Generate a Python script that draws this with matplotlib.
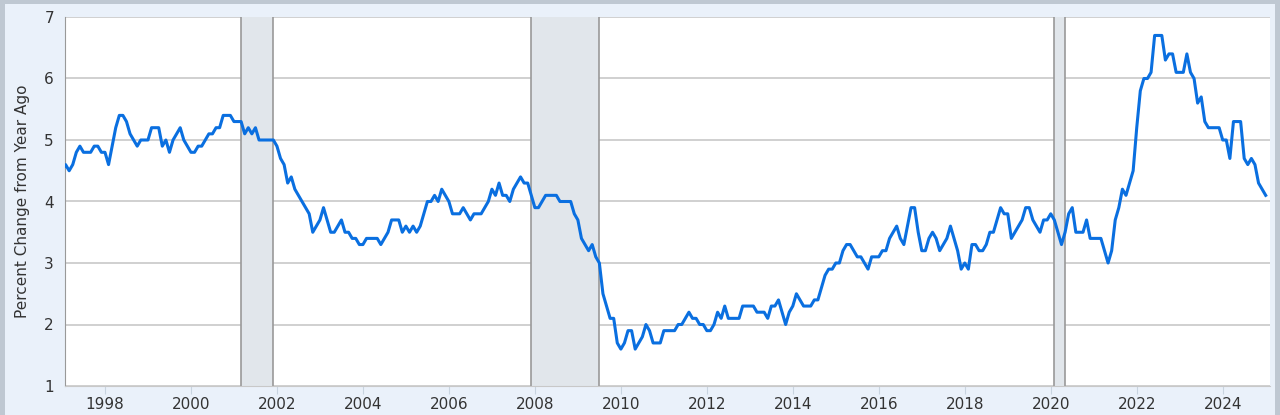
import matplotlib.pyplot as plt
import numpy as np
from matplotlib.patches import Rectangle

# monthly values, Jan 1997 .. Jan 2025
y1997 = [4.5, 4.6, 4.5, 4.6, 4.8, 4.9, 4.8, 4.8, 4.8, 4.9, 4.9, 4.8]
y1998 = [4.8, 4.6, 4.9, 5.2, 5.4, 5.4, 5.3, 5.1, 5.0, 4.9, 5.0, 5.0]
y1999 = [5.0, 5.2, 5.2, 5.2, 4.9, 5.0, 4.8, 5.0, 5.1, 5.2, 5.0, 4.9]
y2000 = [4.8, 4.8, 4.9, 4.9, 5.0, 5.1, 5.1, 5.2, 5.2, 5.4, 5.4, 5.4]
y2001 = [5.3, 5.3, 5.3, 5.1, 5.2, 5.1, 5.2, 5.0, 5.0, 5.0, 5.0, 5.0]
y2002 = [4.9, 4.7, 4.6, 4.3, 4.4, 4.2, 4.1, 4.0, 3.9, 3.8, 3.5, 3.6]
y2003 = [3.7, 3.9, 3.7, 3.5, 3.5, 3.6, 3.7, 3.5, 3.5, 3.4, 3.4, 3.3]
y2004 = [3.3, 3.4, 3.4, 3.4, 3.4, 3.3, 3.4, 3.5, 3.7, 3.7, 3.7, 3.5]
y2005 = [3.6, 3.5, 3.6, 3.5, 3.6, 3.8, 4.0, 4.0, 4.1, 4.0, 4.2, 4.1]
y2006 = [4.0, 3.8, 3.8, 3.8, 3.9, 3.8, 3.7, 3.8, 3.8, 3.8, 3.9, 4.0]
y2007 = [4.2, 4.1, 4.3, 4.1, 4.1, 4.0, 4.2, 4.3, 4.4, 4.3, 4.3, 4.1]
y2008 = [3.9, 3.9, 4.0, 4.1, 4.1, 4.1, 4.1, 4.0, 4.0, 4.0, 4.0, 3.8]
y2009 = [3.7, 3.4, 3.3, 3.2, 3.3, 3.1, 3.0, 2.5, 2.3, 2.1, 2.1, 1.7]
y2010 = [1.6, 1.7, 1.9, 1.9, 1.6, 1.7, 1.8, 2.0, 1.9, 1.7, 1.7, 1.7]
y2011 = [1.9, 1.9, 1.9, 1.9, 2.0, 2.0, 2.1, 2.2, 2.1, 2.1, 2.0, 2.0]
y2012 = [1.9, 1.9, 2.0, 2.2, 2.1, 2.3, 2.1, 2.1, 2.1, 2.1, 2.3, 2.3]
y2013 = [2.3, 2.3, 2.2, 2.2, 2.2, 2.1, 2.3, 2.3, 2.4, 2.2, 2.0, 2.2]
y2014 = [2.3, 2.5, 2.4, 2.3, 2.3, 2.3, 2.4, 2.4, 2.6, 2.8, 2.9, 2.9]
y2015 = [3.0, 3.0, 3.2, 3.3, 3.3, 3.2, 3.1, 3.1, 3.0, 2.9, 3.1, 3.1]
y2016 = [3.1, 3.2, 3.2, 3.4, 3.5, 3.6, 3.4, 3.3, 3.6, 3.9, 3.9, 3.5]
y2017 = [3.2, 3.2, 3.4, 3.5, 3.4, 3.2, 3.3, 3.4, 3.6, 3.4, 3.2, 2.9]
y2018 = [3.0, 2.9, 3.3, 3.3, 3.2, 3.2, 3.3, 3.5, 3.5, 3.7, 3.9, 3.8]
y2019 = [3.8, 3.4, 3.5, 3.6, 3.7, 3.9, 3.9, 3.7, 3.6, 3.5, 3.7, 3.7]
y2020 = [3.8, 3.7, 3.5, 3.3, 3.5, 3.8, 3.9, 3.5, 3.5, 3.5, 3.7, 3.4]
y2021 = [3.4, 3.4, 3.4, 3.2, 3.0, 3.2, 3.7, 3.9, 4.2, 4.1, 4.3, 4.5]
y2022 = [5.2, 5.8, 6.0, 6.0, 6.1, 6.7, 6.7, 6.7, 6.3, 6.4, 6.4, 6.1]
y2023 = [6.1, 6.1, 6.4, 6.1, 6.0, 5.6, 5.7, 5.3, 5.2, 5.2, 5.2, 5.2]
y2024 = [5.0, 5.0, 4.7, 5.3, 5.3, 5.3, 4.7, 4.6, 4.7, 4.6, 4.3, 4.2]
y2025 = [4.1]

values = (y1997 + y1998 + y1999 + y2000 + y2001 + y2002 + y2003 + y2004 + y2005
          + y2006 + y2007 + y2008 + y2009 + y2010 + y2011 + y2012 + y2013 + y2014
          + y2015 + y2016 + y2017 + y2018 + y2019 + y2020 + y2021 + y2022 + y2023
          + y2024 + y2025)
dates = 1997 + np.arange(len(values)) / 12

recessions = [(2001.17, 2001.92), (2007.92, 2009.5), (2020.08, 2020.33)]
year_ticks = list(range(1998, 2025, 2))
y_ticks = [1, 2, 3, 4, 5, 6, 7]

fig = plt.figure(figsize=(12.8, 4.15), dpi=100, facecolor='#bfc8d2')
# inner light panel
fig.patches.append(Rectangle((0.004, 0.0), 0.992, 0.99, transform=fig.transFigure,
                             facecolor='#eaf1fa', edgecolor='none', zorder=-5))
ax = fig.add_axes([65 / 1280, 1 - 386 / 415, 1205 / 1280, 369 / 415])
ax.set_zorder(1)
ax.set_facecolor('white')

for a, b in recessions:
    ax.axvspan(a, b, color='#e1e6eb', zorder=1, lw=0)
    ax.axvline(a, color='#999999', lw=1.2, zorder=2)
    ax.axvline(b, color='#999999', lw=1.2, zorder=2)

ax.plot(dates, values, color='#0a6fe0', lw=2.2, zorder=3)

ax.set_xlim(1997.07, 2025.1)
ax.set_ylim(1, 7)
ax.set_yticks(y_ticks)
ax.set_xticks(year_ticks)
ax.set_xticklabels([str(y) for y in year_ticks])
ax.set_axisbelow(True)
ax.grid(axis='y', color='#c8c8c8', lw=1.2)
ax.tick_params(axis='y', length=0, labelsize=11, colors='#333333', pad=8)
ax.tick_params(axis='x', length=6, color='#c8d4e0', labelsize=11, labelcolor='#333333', pad=2)
for s in ['top', 'right']:
    ax.spines[s].set_visible(False)
ax.spines['left'].set_color('#999999')
ax.spines['bottom'].set_color('#c8c8c8')
ax.set_ylabel('Percent Change from Year Ago', fontsize=11, color='#333333', labelpad=10)

fig.savefig('out.png', dpi=100, facecolor=fig.get_facecolor())
